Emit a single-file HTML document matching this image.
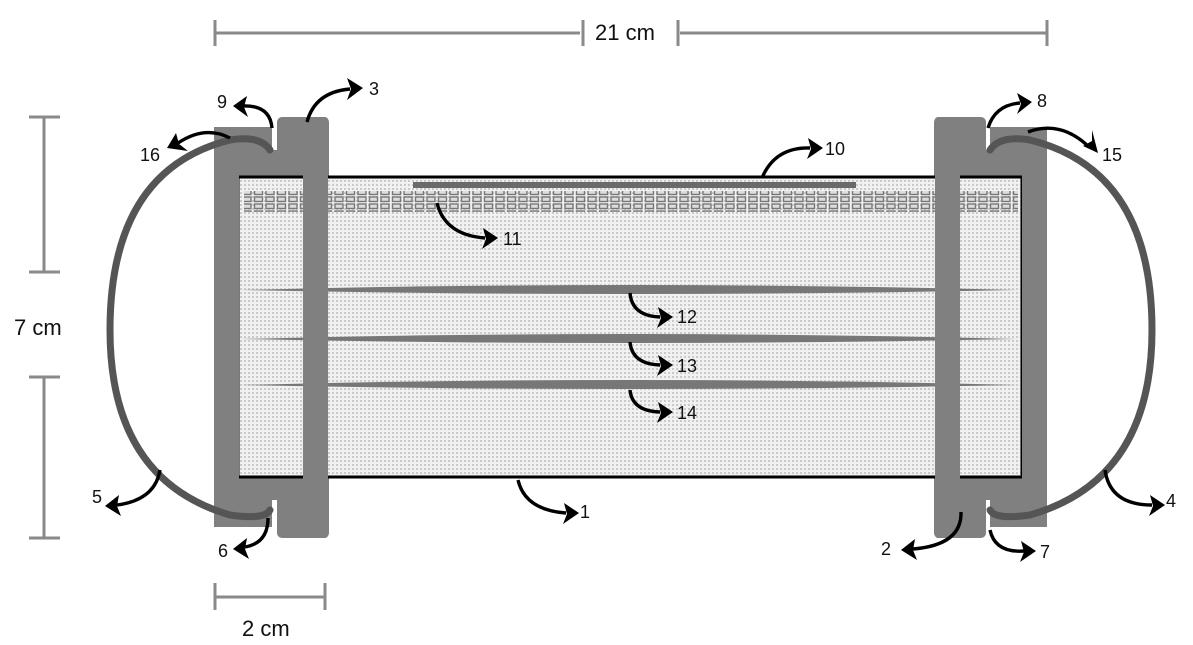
<!DOCTYPE html>
<html><head><meta charset="utf-8"><style>
html,body{margin:0;padding:0;background:#fff;}
svg{display:block;}
text{font-family:"Liberation Sans",sans-serif;fill:#111;}
</style></head><body>
<svg width="1193" height="645" viewBox="0 0 1193 645" xmlns="http://www.w3.org/2000/svg">
<defs>
<pattern id="dots" width="4" height="4" patternUnits="userSpaceOnUse">
<rect width="4" height="4" fill="#f1f1f1"/>
<rect x="0" y="0" width="2" height="2" fill="#cacaca"/>
</pattern>
<pattern id="holes" width="11.5" height="7" patternUnits="userSpaceOnUse">
<rect x="1.5" y="1" width="8" height="4.5" fill="#ddd" stroke="#777" stroke-width="1.4"/>
</pattern>
</defs>

<!-- dimension lines -->
<g stroke="#8a8a8a" stroke-width="3" fill="none">
<line x1="215" y1="33" x2="580" y2="33"/><line x1="680" y1="33" x2="1047" y2="33"/>
<line x1="215" y1="20" x2="215" y2="46"/><line x1="1047" y1="20" x2="1047" y2="46"/>
<line x1="583" y1="20" x2="583" y2="46"/><line x1="678" y1="20" x2="678" y2="46"/>
<line x1="44" y1="117" x2="44" y2="272"/><line x1="44" y1="377" x2="44" y2="538"/>
<line x1="29" y1="117" x2="60" y2="117"/><line x1="29" y1="272" x2="60" y2="272"/>
<line x1="29" y1="377" x2="60" y2="377"/><line x1="29" y1="538" x2="60" y2="538"/>
<line x1="215" y1="597" x2="325" y2="597"/>
<line x1="215" y1="583" x2="215" y2="610"/><line x1="325" y1="583" x2="325" y2="610"/>
</g>
<text x="595" y="40" font-size="22">21 cm</text>
<text x="14" y="335" font-size="22">7 cm</text>
<text x="242" y="636" font-size="22">2 cm</text>

<!-- gray frame pieces -->
<g fill="#808080">
<path d="M214 132 Q214 127 219 127 L272 127 L272 150 L277 150 L277 500 L272 500 L272 527 L219 527 Q214 527 214 522 Z"/>
<rect x="277" y="117" width="52" height="421" rx="5"/>
<rect x="934" y="117" width="52" height="421" rx="5"/>
<path d="M990 127 L1043 127 Q1047 127 1047 132 L1047 522 Q1047 527 1043 527 L990 527 L990 500 L986 500 L986 150 L990 150 Z"/>
</g>
<!-- mask body -->
<rect x="238" y="177" width="784" height="300" fill="url(#dots)" stroke="#000" stroke-width="3"/>
<rect x="244" y="191" width="774" height="21" fill="url(#holes)"/>
<rect x="413" y="182" width="443" height="6" fill="#6a6a6a"/>
<!-- pleats -->
<g fill="#777">
<path d="M242 290 Q630 280 1018 290 Q630 298 242 290 Z"/>
<path d="M242 339 Q630 329 1018 339 Q630 347 242 339 Z"/>
<path d="M242 385 Q630 375 1018 385 Q630 393 242 385 Z"/>
</g>
<!-- bars over mask -->
<g fill="#808080">
<rect x="303" y="117" width="25" height="421" rx="3"/>
<rect x="935" y="117" width="25" height="421" rx="3"/>
<rect x="1022" y="127" width="25" height="400"/>
<rect x="214" y="127" width="25" height="400"/>
</g>
<!-- ear loops -->
<g stroke="#555" stroke-width="7" fill="none" stroke-linecap="round">
<path d="M270 150 Q260 135 230 140 Q110 170 110 330 Q110 480 230 515 Q265 520 270 510"/>
<path d="M990 150 Q1000 135 1030 140 Q1152 170 1152 330 Q1152 480 1030 515 Q995 520 990 510"/>
</g>

<!-- arrows -->
<g stroke="#000" stroke-width="3.4" fill="none">
<path d="M307 122 Q315 92 350 89"/>
<path d="M272 128 Q270 105 243 106"/>
<path d="M230 138 Q205 125 178 143"/>
<path d="M988 128 Q995 105 1020 103"/>
<path d="M1028 132 Q1060 120 1088 146"/>
<path d="M762 178 Q775 147 810 148"/>
<path d="M437 203 Q445 235 485 238"/>
<path d="M630 293 Q632 316 660 317"/>
<path d="M630 342 Q632 364 660 365"/>
<path d="M630 390 Q632 411 660 412"/>
<path d="M518 480 Q525 510 566 513"/>
<path d="M160 470 Q155 500 117 505"/>
<path d="M268 518 Q268 543 245 547"/>
<path d="M961 512 Q962 545 913 549"/>
<path d="M990 530 Q995 553 1024 551"/>
<path d="M1105 470 Q1110 505 1152 505"/>
</g>
<g fill="#000">
<path d="M363 88 L347 78 L351 89 L347 100 Z"/>
<path d="M233 106 L247 96 L244 107 L248 117 Z"/>
<path d="M167 148 L176 133 L179 144 L188 151 Z"/>
<path d="M1032 102 L1017 93 L1021 104 L1017 114 Z"/>
<path d="M1098 153 L1083 146 L1092 141 L1092 130 Z"/>
<path d="M823 148 L808 138 L811 149 L807 159 Z"/>
<path d="M498 238 L483 228 L486 239 L482 249 Z"/>
<path d="M673 317 L658 307 L661 318 L657 328 Z"/>
<path d="M673 365 L658 355 L661 366 L657 376 Z"/>
<path d="M673 412 L658 402 L661 413 L657 423 Z"/>
<path d="M579 513 L564 503 L567 514 L563 524 Z"/>
<path d="M105 506 L119 495 L117 506 L121 516 Z"/>
<path d="M233 549 L247 538 L245 549 L249 559 Z"/>
<path d="M901 550 L915 539 L913 550 L917 560 Z"/>
<path d="M1036 551 L1021 541 L1024 552 L1020 562 Z"/>
<path d="M1165 505 L1150 495 L1153 506 L1149 516 Z"/>
</g>
<g font-size="18">
<text x="369" y="95">3</text>
<text x="217" y="108">9</text>
<text x="140" y="161">16</text>
<text x="1037" y="107">8</text>
<text x="1102" y="161">15</text>
<text x="825" y="155">10</text>
<text x="503" y="245">11</text>
<text x="677" y="323">12</text>
<text x="677" y="372">13</text>
<text x="677" y="419">14</text>
<text x="580" y="518">1</text>
<text x="92" y="503">5</text>
<text x="218" y="557">6</text>
<text x="881" y="555">2</text>
<text x="1040" y="558">7</text>
<text x="1166" y="507">4</text>
</g>
</svg>
</body></html>
